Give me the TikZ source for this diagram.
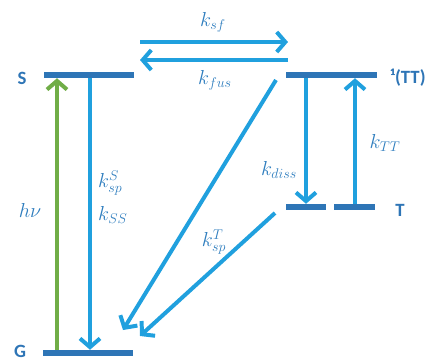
\documentclass[tikz,border=0pt]{standalone}
\usepackage{fontspec}
\setmainfont{Carlito}
\usetikzlibrary{arrows.meta}

\definecolor{levelblue}{RGB}{46,117,182}
\definecolor{arrowblue}{RGB}{32,160,222}
\definecolor{textblue}{RGB}{46,125,190}
\definecolor{pumpgreen}{RGB}{112,173,71}

\tikzset{
  level/.style={fill=levelblue, inner sep=0pt, minimum height=0.18cm},
  arr/.style={draw=arrowblue, line width=3.4pt, -{Straight Barb[length=2.6mm,width=6mm]}},
  rate/.style={text=textblue, font=\fontsize{18}{20}\selectfont},
  state/.style={text=levelblue, font=\fontsize{16}{18}\selectfont\bfseries},
}

\begin{document}
\begin{tikzpicture}[x=0.03cm, y=-0.03cm]
\useasboundingbox (0,0) rectangle (436,360);

% levels
\node[level, minimum width=2.7cm] (S) at (89,75) {};
\node[level, minimum width=2.73cm] (TT) at (331.5,75) {};
\node[level, minimum width=1.2cm] (T1) at (306,207) {};
\node[level, minimum width=1.23cm] (T2) at (354.5,207) {};
\node[level, minimum width=2.7cm] (G) at (88,353) {};

\node[state] (Slbl) at (22,78) {S};
\node[state] (TTlbl) at (408,78) {¹(TT)};
\node[state] (Tlbl) at (400,210) {T};
\node[state] (Glbl) at (20,351) {G};

% x positions of the vertical arrows
\coordinate (xhv) at (57,0);
\coordinate (xss) at (90,0);
\coordinate (xdiss) at (306,0);
\coordinate (xtt) at (355,0);

% ends of the free arrows
\coordinate (sf-l) at (140,42);
\coordinate (sf-r) at (288,42);
\coordinate (fus-r) at (288,60);
\coordinate (fus-l) at (140,60);
\coordinate (ttsp) at (276,80);
\coordinate (ttsp-end) at (123,330);
\coordinate (tsp) at (275,213);
\coordinate (tsp-end) at (140,336);

\draw[arr, draw=pumpgreen] (G.north -| xhv) -- (S.south -| xhv);
\draw[arr] (S.south -| xss) -- (G.north -| xss);
\draw[arr] (sf-l) -- (sf-r);
\draw[arr] (fus-r) -- (fus-l);
\draw[arr] (ttsp) -- (ttsp-end);
\draw[arr] (tsp) -- (tsp-end);
\draw[arr] (TT.south -| xdiss) -- (T1.north -| xdiss);
\draw[arr] (T2.north -| xtt) -- (TT.south -| xtt);

% rate constants
\node[rate] (ksf) at (213,22) {$k_{sf}$};
\node[rate] (kfus) at (215,80) {$k_{fus}$};
\node[rate, anchor=west] (kspS) at (94,183) {$k_{sp}^{S}$};
\node[rate, anchor=west] (kss) at (94,215) {$k_{SS}$};
\node[rate] (hv) at (30,210) {$h\nu$};
\node[rate] (kdiss) at (279,170) {$k_{diss}$};
\node[rate] (ktt) at (385,143) {$k_{TT}$};
\node[rate] (kspT) at (214,242) {$k_{sp}^{T}$};

\end{tikzpicture}
\end{document}
